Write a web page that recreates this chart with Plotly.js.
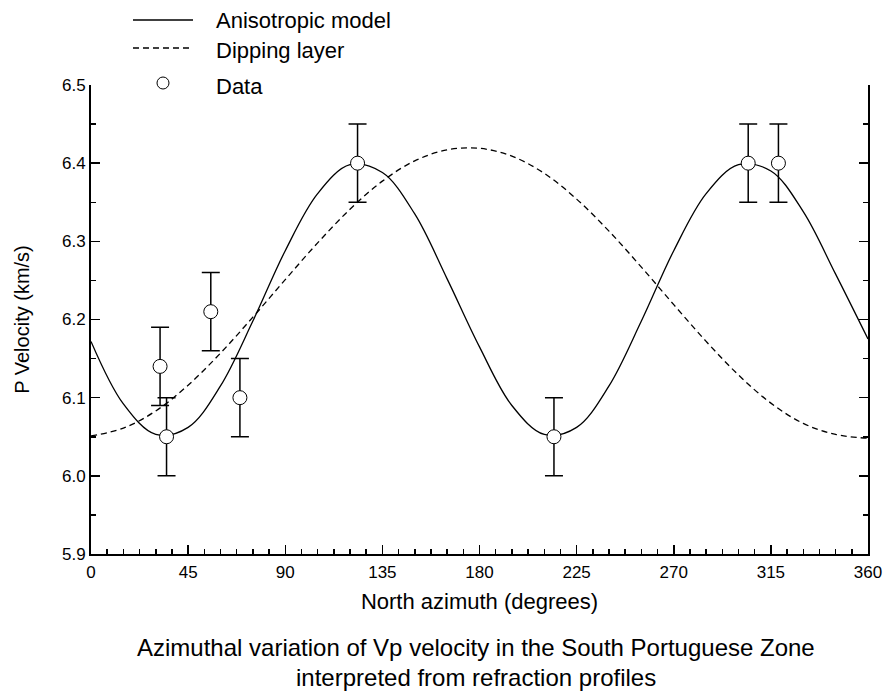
<!DOCTYPE html>
<html>
<head>
<meta charset="utf-8">
<script src="https://cdn.plot.ly/plotly-3.0.1.min.js"></script>
<style>html,body{margin:0;padding:0;background:#fff;}#chart{width:885px;height:693px;}</style>
</head>
<body>
<div id="chart"></div>
<script>
// Model curves, values
const modelAz = [0,15,30,45,60,75,90,105,120,135,150,165,180,195,210,225,240,255,270,285,300,315,330,345,360];
const anisoVp = [6.172,6.092,6.053,6.062,6.115,6.198,6.288,6.361,6.398,6.388,6.335,6.252,6.165,6.090,6.053,6.062,6.115,6.198,6.288,6.361,6.398,6.390,6.338,6.258,6.175];
const dipVp   = [6.051,6.061,6.083,6.116,6.157,6.203,6.251,6.298,6.341,6.377,6.403,6.417,6.419,6.409,6.387,6.354,6.313,6.267,6.219,6.172,6.129,6.093,6.067,6.053,6.048];
// Observed data
const dataAz  = [32, 35, 55.5, 69, 123.5, 214.5, 304.5, 318.5];
const dataVp  = [6.14, 6.05, 6.21, 6.10, 6.40, 6.05, 6.40, 6.40];
const dataErr = [0.05, 0.05, 0.05, 0.05, 0.05, 0.05, 0.05, 0.05];
const legendLabels = ["Anisotropic model", "Dipping layer", "Data"];
const xTickVals = [0,45,90,135,180,225,270,315,360];

const W = 885, H = 693, L = 91, R = 17, T = 85, B = 139;
const pw = W - L - R, ph = H - T - B;
const px = v => (v - L) / pw;
const py = v => (H - B - v) / ph;
const FONT = "Liberation Sans, Arial, sans-serif";

const traces = [
  {x: modelAz, y: anisoVp, mode: "lines", line: {color: "#000", width: 1.3, shape: "spline"}, showlegend: false, hoverinfo: "skip"},
  {x: modelAz, y: dipVp, mode: "lines", line: {color: "#000", width: 1.3, dash: "6px,4px", shape: "spline"}, showlegend: false, hoverinfo: "skip"},
  {x: dataAz, y: dataVp, mode: "markers", showlegend: false,
   marker: {symbol: "circle", size: 14, color: "#fff", line: {color: "#000", width: 1}},
   error_y: {type: "data", array: dataErr, visible: true, color: "#000", thickness: 1.5, width: 9}}
];

const shapes = [
  {type: "line", xref: "paper", yref: "paper", x0: px(133), x1: px(193), y0: py(20), y1: py(20), line: {color: "#000", width: 1.3}},
  {type: "line", xref: "paper", yref: "paper", x0: px(133), x1: px(193), y0: py(48), y1: py(48), line: {color: "#000", width: 1.3, dash: "6px,4px"}},
  {type: "circle", xref: "paper", yref: "paper", x0: px(157), x1: px(169), y0: py(77), y1: py(89), line: {color: "#000", width: 1}, fillcolor: "#fff"}
];

const legY = [21, 50, 86];
const annotations = legendLabels.map((t, i) => ({
  text: t, xref: "paper", yref: "paper", x: px(214), y: py(legY[i]), xanchor: "left", yanchor: "middle",
  showarrow: false, font: {family: FONT, size: 22, color: "#000"}
}));
annotations.push({text: "Azimuthal variation of Vp velocity in the South Portuguese Zone", xref: "paper", yref: "paper",
  x: px(476), y: py(647), xanchor: "center", yanchor: "middle", showarrow: false, font: {family: FONT, size: 24, color: "#000"}});
annotations.push({text: "interpreted from refraction profiles", xref: "paper", yref: "paper",
  x: px(476), y: py(677), xanchor: "center", yanchor: "middle", showarrow: false, font: {family: FONT, size: 24, color: "#000"}});

const layout = {
  width: W, height: H,
  margin: {l: L, r: R, t: T, b: B, pad: 0},
  paper_bgcolor: "#fff", plot_bgcolor: "#fff",
  font: {family: FONT, color: "#000", size: 16},
  showlegend: false,
  xaxis: {
    range: [0, 360], tickvals: xTickVals, ticktext: xTickVals.map(String),
    ticks: "inside", ticklen: 9, tickwidth: 1.5, tickcolor: "#000",
    minor: {dtick: 7.5, ticks: "inside", ticklen: 5, tickwidth: 1.5, tickcolor: "#000", showgrid: false},
    showline: true, linecolor: "#000", linewidth: 2, showgrid: false, zeroline: false,
    tickfont: {family: FONT, size: 17}, ticklabelstandoff: 2,
    title: {text: "North azimuth (degrees)", font: {family: FONT, size: 22}, standoff: 12}
  },
  yaxis: {
    range: [5.9, 6.5], dtick: 0.1, tick0: 5.9, tickformat: ".1f",
    ticks: "inside", ticklen: 9, tickwidth: 1.5, tickcolor: "#000",
    minor: {dtick: 0.05, ticks: "inside", ticklen: 5, tickwidth: 1.5, tickcolor: "#000", showgrid: false},
    showline: true, mirror: "ticks", linecolor: "#000", linewidth: 2, showgrid: false, zeroline: false,
    tickfont: {family: FONT, size: 17},
    title: {text: "P Velocity (km/s)", font: {family: FONT, size: 20}, standoff: 27}
  },
  shapes: shapes,
  annotations: annotations
};

Plotly.newPlot("chart", traces, layout, {displayModeBar: false, staticPlot: true});
</script>
</body>
</html>
